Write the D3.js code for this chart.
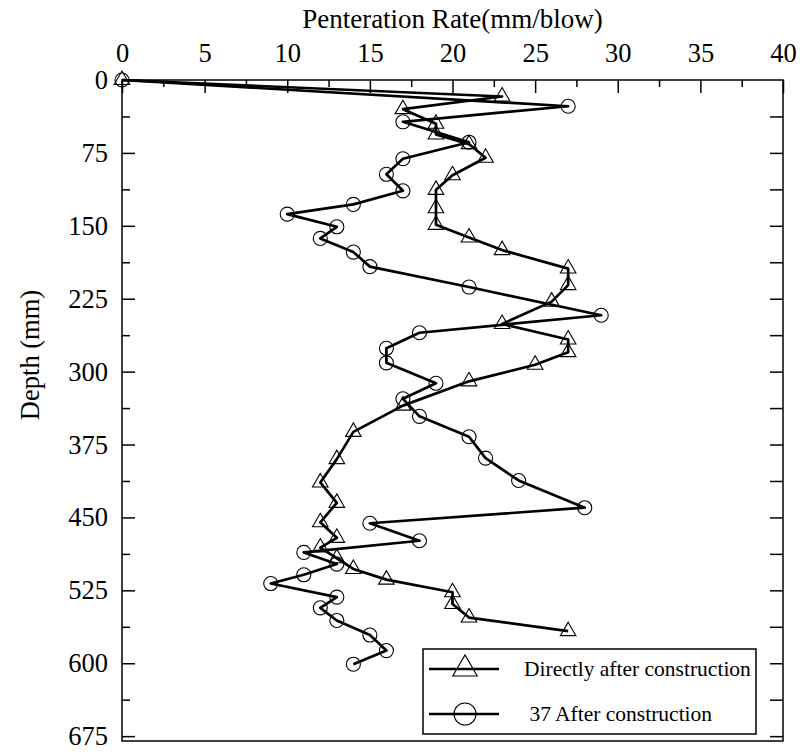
<!DOCTYPE html>
<html>
<head>
<meta charset="utf-8">
<script src="https://cdnjs.cloudflare.com/ajax/libs/d3/7.8.5/d3.min.js"></script>
<style>
  body { margin: 0; background: #fff; }
  svg { display: block; }
  svg text { font-family: "Liberation Serif", "Times New Roman", serif; fill: #000; }
</style>
</head>
<body>
<svg id="chart" width="801" height="753"></svg>
<script>
// Directly after construction: [penetration rate, depth]
const directRate = [0, 23, 17, 19, 19, 21, 22, 20, 19, 19, 19, 21, 23, 27, 27, 26, 23, 27, 27, 25, 21, 17, 14, 13, 12, 13, 12, 13, 12, 13, 14, 16, 20, 20, 21, 27];
const directDepth = [0, 17, 30, 45, 56, 66, 80, 98, 113, 132, 149, 162, 175, 194, 211, 228, 251, 267, 280, 293, 310, 335, 362, 390, 414, 435, 455, 471, 481, 492, 503, 514, 527, 539, 553, 567];

// 37 after construction
const laterRate = [0, 27, 17, 21, 17, 16, 17, 14, 10, 13, 12, 14, 15, 21, 29, 18, 16, 16, 19, 17, 18, 21, 22, 24, 28, 15, 18, 11, 13, 11, 9, 13, 12, 13, 15, 16, 14];
const laterDepth = [0, 27, 43, 64, 81, 97, 114, 128, 138, 151, 163, 177, 192, 213, 242, 260, 276, 291, 312, 328, 346, 367, 389, 412, 440, 456, 474, 486, 498, 509, 518, 532, 543, 556, 571, 587, 601];

const xTicks = [0, 5, 10, 15, 20, 25, 30, 35, 40];
const yTicks = [0, 75, 150, 225, 300, 375, 450, 525, 600, 675];
const seriesNames = ["Directly after construction", " 37 After construction"];

const svg = d3.select("#chart");
const margin = { top: 80, right: 18, bottom: 12, left: 122 };
const W = 801, H = 753;
const serif = "Liberation Serif, Times New Roman, serif";

const x = d3.scaleLinear().domain([0, 40]).range([margin.left, W - margin.right]);
const y = d3.scaleLinear().domain([0, 680]).range([margin.top, H - margin.bottom]);

// frame
svg.append("rect")
  .attr("x", x(0)).attr("y", y(0))
  .attr("width", x(40) - x(0)).attr("height", y(680) - y(0))
  .attr("fill", "none").attr("stroke", "#000").attr("stroke-width", 1.5);

// top axis (major + minor)
svg.append("g").attr("transform", `translate(0,${y(0)})`)
  .call(d3.axisTop(x).tickValues(xTicks).tickSize(-13).tickPadding(18).tickSizeOuter(0));
svg.append("g").attr("transform", `translate(0,${y(0)})`)
  .call(d3.axisTop(x).tickValues(d3.range(2.5, 40, 5)).tickSize(-7).tickFormat("").tickSizeOuter(0));

// left axis (major + minor)
svg.append("g").attr("transform", `translate(${x(0)},0)`)
  .call(d3.axisLeft(y).tickValues(yTicks).tickSize(-13).tickPadding(14).tickSizeOuter(0));
svg.append("g").attr("transform", `translate(${x(0)},0)`)
  .call(d3.axisLeft(y).tickValues(d3.range(37.5, 680, 75)).tickSize(-8).tickFormat("").tickSizeOuter(0));

// right axis
svg.append("g").attr("transform", `translate(${x(40)},0)`)
  .call(d3.axisRight(y).tickValues(d3.range(37.5, 680, 37.5)).tickSize(-13).tickFormat("").tickSizeOuter(0));

svg.selectAll(".domain").remove();
svg.selectAll("g").attr("font-family", serif).attr("font-size", 26.5);
svg.selectAll(".tick line").attr("stroke", "#000").attr("stroke-width", 1.5);
svg.selectAll(".tick text").attr("fill", "#000");

// axis titles
svg.append("text")
  .attr("x", (x(0) + x(40)) / 2).attr("y", 28)
  .attr("text-anchor", "middle").attr("font-size", 27)
  .text("Penteration Rate(mm/blow)");

svg.append("text")
  .attr("transform", `translate(39,355) rotate(-90)`)
  .attr("text-anchor", "middle").attr("font-size", 26.5)
  .text("Depth (mm)");

const line = d3.line().x(d => x(d[0])).y(d => y(d[1]));
const directData = directRate.map((v, i) => [v, directDepth[i]]);
const laterData = laterRate.map((v, i) => [v, laterDepth[i]]);

const tri = d3.symbol().type(d3.symbolTriangle).size(105);
const circ = d3.symbol().type(d3.symbolCircle).size(155);

[[directData, tri], [laterData, circ]].forEach(([data, sym]) => {
  svg.append("path").datum(data)
    .attr("d", line).attr("fill", "none")
    .attr("stroke", "#000").attr("stroke-width", 2.7).attr("stroke-linejoin", "round");
  svg.append("g").selectAll("path").data(data).join("path")
    .attr("transform", d => `translate(${x(d[0])},${y(d[1])})`)
    .attr("d", sym)
    .attr("fill", "none").attr("stroke", "#000").attr("stroke-width", 1.1);
});

// legend
const lg = svg.append("g");
lg.append("rect")
  .attr("x", 423).attr("y", 649).attr("width", 333).attr("height", 85)
  .attr("fill", "#fff").attr("stroke", "#000").attr("stroke-width", 1.5);
const legendSyms = [d3.symbol().type(d3.symbolTriangle).size(260), d3.symbol().type(d3.symbolCircle).size(380)];
seriesNames.forEach((name, i) => {
  const ly = 669 + i * 45;
  lg.append("line").attr("x1", 429).attr("x2", 499).attr("y1", ly).attr("y2", ly)
    .attr("stroke", "#000").attr("stroke-width", 2.7);
  lg.append("path").attr("transform", `translate(465,${ly})`).attr("d", legendSyms[i])
    .attr("fill", "none").attr("stroke", "#000").attr("stroke-width", 1.1);
  lg.append("text").attr("x", 524).attr("y", ly + 7).attr("font-size", 21.5)
    .attr("xml:space", "preserve").style("white-space", "pre").text(name);
});
</script>
</body>
</html>
